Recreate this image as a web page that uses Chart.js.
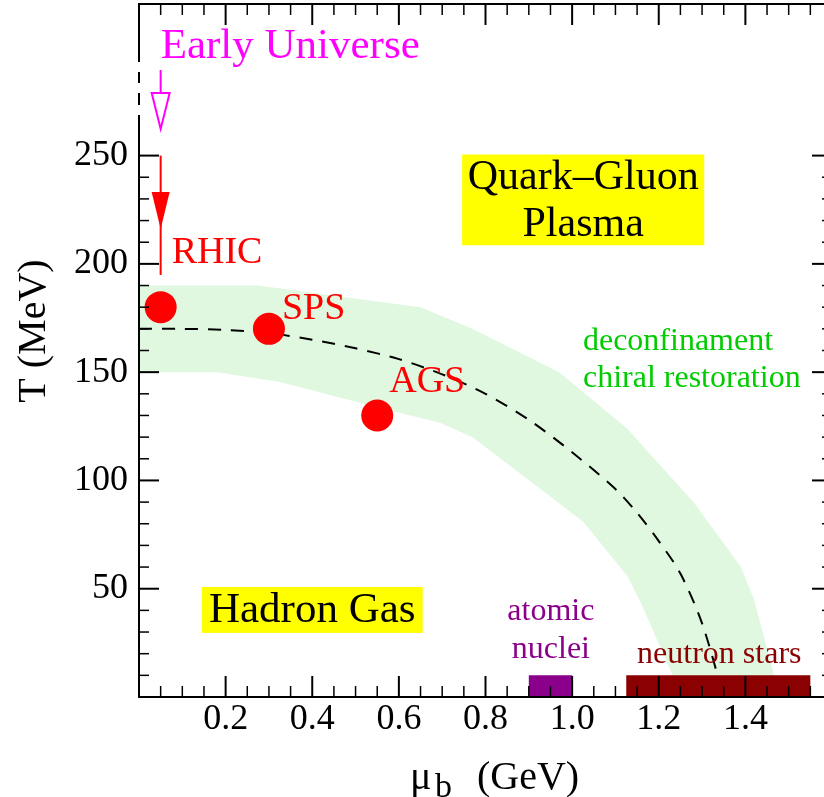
<!DOCTYPE html>
<html>
<head>
<meta charset="utf-8">
<script src="https://cdn.jsdelivr.net/npm/chart.js@4.4.0/dist/chart.umd.min.js"></script>
<style>
  html, body { margin: 0; padding: 0; background: #fff; overflow: hidden; }
  canvas { display: block; }
</style>
</head>
<body>
<canvas id="phase" width="840" height="797"></canvas>
<script>
const SERIF = '"Liberation Serif", "DejaVu Serif", serif';

// --- Data ---

// freeze-out points of the experiments
const expNames = ['RHIC', 'SPS', 'AGS'];
const expMu = [0.05, 0.30, 0.55];
const expT = [180, 170, 130];

// critical line (dashed)
const lineMu = [0, 0.1, 0.2, 0.3, 0.4, 0.5, 0.6, 0.7, 0.8, 0.9, 1.0, 1.1, 1.15, 1.2, 1.25, 1.3, 1.35];
const lineT = [170, 170, 169.5, 168, 165, 161, 156, 149, 140, 128, 113, 96, 85, 72, 57, 34, 0];

// transition band (upper and lower edge)
const bandUpperMu = [0, 0.275, 0.65, 0.77, 0.97, 1.127, 1.28, 1.39, 1.42, 1.465, 1.48];
const bandUpperT = [190, 190, 180, 170, 150, 124, 90, 60, 45, 11, 0];
const bandLowerMu = [0, 0.18, 0.325, 0.57, 0.695, 0.77, 1.025, 1.127, 1.16, 1.23, 1.25];
const bandLowerT = [150, 150, 145.5, 132.7, 126.6, 120, 81, 56, 43, 11, 0];

// strips on the mu axis
const nucleiMu = [0.9, 1.0];
const neutronMu = [1.125, 1.55];
const stripT = [0, 10];

// tick labels
const xTickValues = [0.2, 0.4, 0.6, 0.8, 1.0, 1.2, 1.4];
const yTickValues = [50, 100, 150, 200, 250];

// --- Helpers ---
const pts = (mu, t) => mu.map((m, i) => ({ x: m, y: t[i] }));
const rect = ([x0, x1], [y0, y1]) => [
    { x: x0, y: y0 }, { x: x1, y: y0 }, { x: x1, y: y1 }, { x: x0, y: y1 }, { x: x0, y: y0 }
];
const bandPts = pts(bandUpperMu, bandUpperT).concat(pts(bandLowerMu, bandLowerT).reverse());
bandPts.push(bandPts[0]);

const shape = (data, color, order) => ({
    type: 'line', data, fill: 'shape', backgroundColor: color,
    borderWidth: 0, pointRadius: 0, tension: 0, order
});

// label offsets from each point (px)
const expLabelOffset = [[11, -44], [13, -10], [12, -23]];

// --- Annotations: boxes, texts, arrows ---
const notes = {
    id: 'notes',
    afterDatasetsDraw(chart) {
        const { ctx } = chart;
        const sx = chart.scales.x, sy = chart.scales.y;
        const px = v => sx.getPixelForValue(v);
        const py = v => sy.getPixelForValue(v);
        ctx.save();
        ctx.textBaseline = 'alphabetic';

        // experiment labels
        ctx.fillStyle = '#ff0000';
        ctx.font = `38px ${SERIF}`;
        ctx.textAlign = 'left';
        expNames.forEach((n, i) => {
            ctx.fillText(n, px(expMu[i]) + expLabelOffset[i][0], py(expT[i]) + expLabelOffset[i][1]);
        });

        // red arrow (RHIC)
        const ax = px(0.05);
        ctx.strokeStyle = '#ff0000';
        ctx.lineWidth = 2;
        ctx.beginPath();
        ctx.moveTo(ax, py(250));
        ctx.lineTo(ax, py(194.9));
        ctx.stroke();
        ctx.beginPath();
        ctx.moveTo(ax - 9, py(233.2));
        ctx.lineTo(ax + 9, py(233.2));
        ctx.lineTo(ax, py(216.1));
        ctx.closePath();
        ctx.fill();

        // magenta arrow (Early Universe)
        ctx.strokeStyle = '#ff00ff';
        ctx.beginPath();
        ctx.moveTo(ax, py(289.5));
        ctx.lineTo(ax, py(278.9));
        ctx.stroke();
        ctx.beginPath();
        ctx.moveTo(ax - 9, py(278.9));
        ctx.lineTo(ax + 9, py(278.9));
        ctx.lineTo(ax, py(262.3));
        ctx.closePath();
        ctx.fillStyle = '#fff';
        ctx.fill();
        ctx.stroke();
        ctx.fillStyle = '#ff00ff';
        ctx.font = `43px ${SERIF}`;
        ctx.fillText('Early Universe', ax, py(295));

        // yellow boxes
        const box = (m0, m1, t0, t1, lines, font, gap, first) => {
            const x0 = px(m0), x1 = px(m1), top = py(t1), bot = py(t0);
            ctx.fillStyle = '#ffff00';
            ctx.fillRect(x0, top, x1 - x0, bot - top);
            ctx.fillStyle = '#000';
            ctx.font = font;
            ctx.textAlign = 'center';
            lines.forEach((l, i) => ctx.fillText(l, (x0 + x1) / 2, top + first + i * gap));
        };
        box(0.746, 1.305, 208.6, 250.5, ['Quark\u2013Gluon', 'Plasma'], `42px ${SERIF}`, 47, 34);
        box(0.145, 0.655, 29.6, 50.8, ['Hadron Gas'], `43px ${SERIF}`, 0, 35);

        // green transition text
        ctx.textAlign = 'left';
        ctx.fillStyle = '#00cc00';
        ctx.font = `32px ${SERIF}`;
        ctx.fillText('deconfinament', px(1.025), py(160.2));
        ctx.fillText('chiral restoration', px(1.025), py(143.1));

        // strip labels
        ctx.fillStyle = '#8b008b';
        ctx.font = `32px ${SERIF}`;
        ctx.textAlign = 'center';
        ctx.fillText('atomic', px(0.951), py(35.5));
        ctx.fillText('nuclei', px(0.951), py(18));
        ctx.fillStyle = '#8b0000';
        ctx.textAlign = 'left';
        ctx.fillText('neutron stars', px(1.15), py(15.7));

        // axis titles
        ctx.fillStyle = '#000';
        ctx.font = `40px ${SERIF}`;
        ctx.fillText('\u03bc', 410, 789);
        ctx.font = `34px ${SERIF}`;
        ctx.fillText('b', 435, 797);
        ctx.font = `40px ${SERIF}`;
        ctx.fillText('(GeV)', 477, 789);

        ctx.translate(45, 331);
        ctx.rotate(-Math.PI / 2);
        ctx.textAlign = 'center';
        ctx.fillText('T (MeV)', 0, 0);
        ctx.restore();
    }
};

// --- Frame: axes with inward ticks ---
const frame = {
    id: 'frame',
    afterDatasetsDraw(chart) {
        const { ctx, chartArea: a } = chart;
        const sx = chart.scales.x, sy = chart.scales.y;
        const seg = (x0, y0, x1, y1, w) => {
            ctx.lineWidth = w;
            ctx.beginPath();
            ctx.moveTo(x0, y0);
            ctx.lineTo(x1, y1);
            ctx.stroke();
        };
        ctx.save();
        ctx.strokeStyle = '#000';

        for (let i = 1; i < 32; i++) {
            const p = sx.getPixelForValue(i / 20);
            const major = i % 4 === 0;
            const len = major ? 21 : 11;
            seg(p, a.bottom, p, a.bottom - len, major ? 2 : 1.5);
            seg(p, a.top, p, a.top + len, major ? 2 : 1.5);
        }
        for (let i = 1; i <= 25; i++) {
            const p = sy.getPixelForValue(i * 10);
            const major = i % 5 === 0;
            const len = major ? 20 : 10;
            seg(a.left, p, a.left + len, p, major ? 2 : 1.5);
            seg(a.right, p, a.right - len, p, major ? 2 : 1.5);
        }

        seg(a.left - 1, a.bottom, a.right + 1, a.bottom, 2);
        seg(a.left - 1, a.top, a.right + 1, a.top, 2);
        seg(a.right, a.top, a.right, a.bottom, 2);
        // left axis with a break near the top
        [[0, 268.7], [273.4, 278.9], [283.5, 288.6], [293.2, 320]].forEach(([t0, t1]) => {
            seg(a.left, sy.getPixelForValue(t0), a.left, sy.getPixelForValue(t1), 2);
        });
        ctx.restore();
    }
};

new Chart(document.getElementById('phase'), {
    type: 'scatter',
    data: {
        datasets: [
            shape(bandPts, '#e0f8e0', 6),
            {
                type: 'line', data: pts(lineMu, lineT), borderColor: '#000', borderWidth: 2,
                borderDash: [13, 10], pointRadius: 0, fill: false, tension: 0.3, order: 5
            },
            shape(rect(nucleiMu, stripT), '#8b008b', 4),
            shape(rect(neutronMu, stripT), '#8b0000', 3),
            {
                data: pts(expMu, expT), pointRadius: 16, pointHoverRadius: 16,
                backgroundColor: '#ff0000', borderWidth: 0, order: 1
            }
        ]
    },
    options: {
        responsive: false,
        animation: false,
        events: [],
        layout: { autoPadding: false, padding: { left: 0, right: 8, top: 4, bottom: 0 } },
        plugins: { legend: { display: false }, tooltip: { enabled: false } },
        scales: {
            x: {
                type: 'linear', min: 0, max: 1.6,
                grid: { display: false, drawTicks: false },
                border: { display: false },
                afterBuildTicks: s => { s.ticks = xTickValues.map(v => ({ value: v })); },
                afterFit: s => { s.height = 100; s.paddingLeft = 0; s.paddingRight = 0; },
                ticks: {
                    padding: 1, color: '#000', maxRotation: 0,
                    font: { family: SERIF, size: 36 },
                    callback: v => v.toFixed(1)
                }
            },
            y: {
                type: 'linear', min: 0, max: 320,
                grid: { display: false, drawTicks: false },
                border: { display: false },
                afterBuildTicks: s => { s.ticks = yTickValues.map(v => ({ value: v })); },
                afterFit: s => { s.width = 139; s.paddingTop = 0; s.paddingBottom = 0; },
                ticks: {
                    padding: 11, color: '#000',
                    font: { family: SERIF, size: 36 },
                    callback: v => String(v)
                }
            }
        }
    },
    plugins: [notes, frame]
});
</script>
</body>
</html>
